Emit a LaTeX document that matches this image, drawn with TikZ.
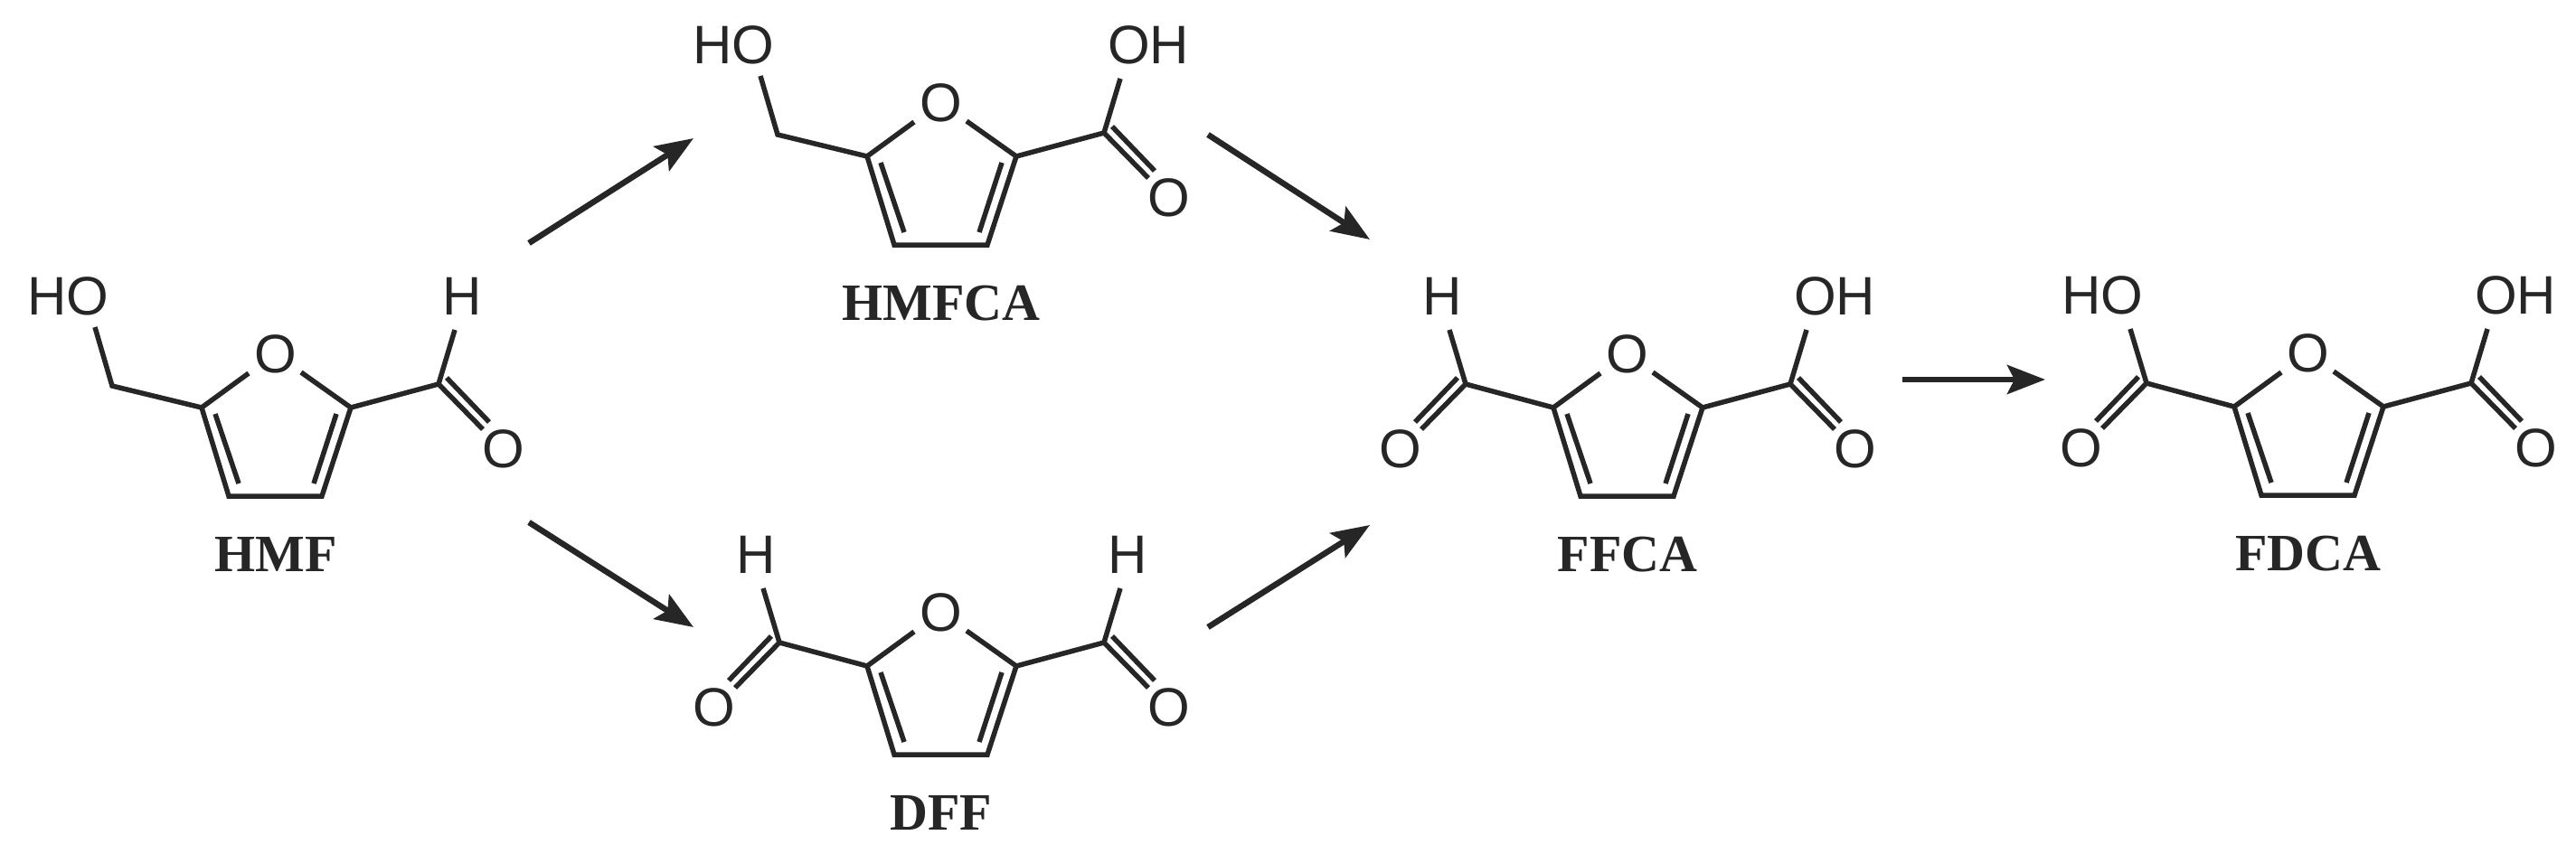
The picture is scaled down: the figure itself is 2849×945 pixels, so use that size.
\documentclass[tikz,border=0pt]{standalone}
\usepackage{fontspec}
\setmainfont{Liberation Sans}
\newfontfamily\lblfont{Liberation Serif}
\usetikzlibrary{arrows.meta}
\tikzset{
 bond/.style={line width=5.5pt, color=black!85},
 atom/.style={font=\fontsize{60}{60}\selectfont, inner sep=0pt, text=black!85},
 lab/.style={font=\lblfont\bfseries\fontsize{58}{58}\selectfont, inner sep=0pt, text=black!85},
 rxn/.style={line width=6.5pt, color=black!85, -{Stealth[length=42pt,width=32pt,inset=8pt]}}
}
\newcommand\furan[4]{% name, x, y, label
 \begin{scope}[shift={(#2,#3)}]
  \node[atom] (#1-o) at (0,0) {O};
  \draw[bond] (-30,21) -- (-82,59) -- (-52,157) -- (51,157) -- (83,59) -- (28,20);
  \draw[bond] (-67,66) -- (-41,143);
  \draw[bond] (67,66) -- (42,143);
  \node[lab] (#1-lab) at (0,222) {#4};
 \end{scope}}
% carbonyl group: attach x, attach y, xscale, top node name, top text, O node name
\newcommand\carbonyl[6]{%
 \begin{scope}[shift={(#1,#2)}, xscale=#3]
  \draw[bond] (0,0) -- (97,-26) -- ++(18,-60);
  \draw[bond] (97,-26) -- ++(49,50);
  \draw[bond] (106,-33) -- ++(47,49);
  \node[atom] (#4) at (123,-123) {#5};
  \node[atom] (#6) at (169,46) {O};
 \end{scope}}
\newcommand\acid[6]{%
 \begin{scope}[shift={(#1,#2)}, xscale=#3]
  \draw[bond] (0,0) -- (97,-26) -- ++(18,-60);
  \draw[bond] (97,-26) -- ++(49,50);
  \draw[bond] (106,-33) -- ++(47,49);
  \node[atom] (#4) at (146,-123) {#5};
  \node[atom] (#6) at (169,46) {O};
 \end{scope}}
\newcommand\chtwooh[3]{%
 \begin{scope}[shift={(#2,#3)}]
  \draw[bond] (0,0) -- (-99,-24) -- ++(-19,-65);
  \node[atom] (#1-ho) at (-148,-123) {HO};
 \end{scope}}
\begin{document}
\begin{tikzpicture}[x=1pt,y=-1pt]
\useasboundingbox (0,0) rectangle (2849,945);
% HMF
\furan{hmf}{305}{392}{HMF}
\chtwooh{hmfl}{223}{451}
\carbonyl{388}{451}{1}{hmf-h}{H}{hmf-oc}
% HMFCA
\furan{hmfca}{1041}{114}{HMFCA}
\chtwooh{hmfcal}{959}{173}
\acid{1124}{173}{1}{hmfca-oh}{OH}{hmfca-oc}
% DFF
\furan{dff}{1041}{678}{DFF}
\carbonyl{1124}{737}{1}{dff-hr}{H}{dff-or}
\carbonyl{959}{737}{-1}{dff-hl}{H}{dff-ol}
% FFCA
\furan{ffca}{1800}{392}{FFCA}
\acid{1883}{451}{1}{ffca-oh}{OH}{ffca-or}
\carbonyl{1718}{451}{-1}{ffca-h}{H}{ffca-ol}
% FDCA
\furan{fdca}{2553}{391}{FDCA}
\acid{2636}{450}{1}{fdca-ohr}{OH}{fdca-or}
\acid{2471}{450}{-1}{fdca-ohl}{HO}{fdca-ol}
% arrows
\coordinate (a1s) at (585,269); \coordinate (a1e) at (767,153);
\coordinate (a2s) at (585,578); \coordinate (a2e) at (767,694);
\coordinate (a3s) at (1336,149); \coordinate (a3e) at (1515,265);
\coordinate (a4s) at (1336,694); \coordinate (a4e) at (1515,581);
\coordinate (a5s) at (2104,420); \coordinate (a5e) at (2262,420);
\foreach \i in {1,...,5} \draw[rxn] (a\i s) -- (a\i e);
\end{tikzpicture}
\end{document}
